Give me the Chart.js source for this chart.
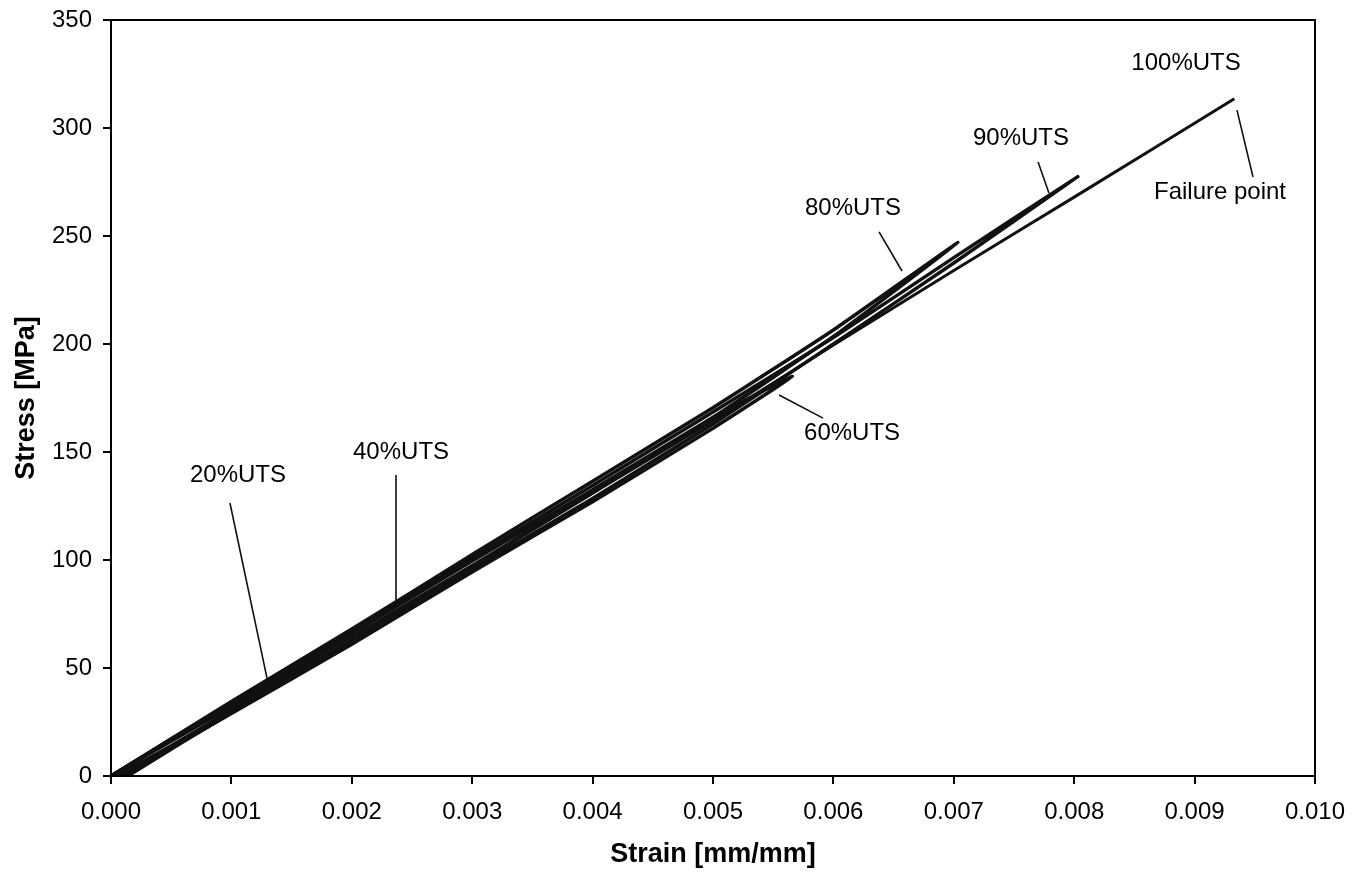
<!DOCTYPE html>
<html>
<head>
<meta charset="utf-8">
<script src="https://cdn.jsdelivr.net/npm/chart.js@4/dist/chart.umd.min.js"></script>
<style>
  html, body { margin: 0; padding: 0; background: #ffffff; }
  #wrap { width: 1367px; height: 872px; }
</style>
</head>
<body>
<div id="wrap"><canvas id="c" width="1367" height="872"></canvas></div>
<script>
// ---- Data ----
const xTickMin = 0, xTickMax = 0.010, xTickStep = 0.001;
const yTickMin = 0, yTickMax = 350, yTickStep = 50;

// cycle to 20% UTS (load then unload)
const strain20 = [0, 0.0005, 0.001, 0.0015, 0.0019, 0.0015, 0.001, 0.0005, 0.00004];
const stress20 = [0, 17, 34, 50.5, 62.5, 47.5, 30.5, 14, 0];
// cycle to 40% UTS
const strain40 = [0, 0.001, 0.002, 0.003, 0.0038, 0.003, 0.002, 0.001, 0.00006];
const stress40 = [0, 33.5, 66.5, 100, 125.5, 96.5, 62, 29.5, 0];
// cycle to 60% UTS
const strain60 = [0, 0.001, 0.002, 0.003, 0.004, 0.005, 0.00566, 0.005, 0.004, 0.003, 0.002, 0.001, 0.0001];
const stress60 = [0, 33, 66, 99.5, 132.5, 166, 185, 161, 127, 94.5, 61, 29, 0];
// cycle to 80% UTS
const strain80 = [0, 0.001, 0.002, 0.003, 0.004, 0.005, 0.006, 0.007035, 0.006, 0.005, 0.004, 0.003, 0.002, 0.001, 0.00012];
const stress80 = [0, 34.5, 68, 102.5, 136.5, 170.5, 206.5, 247, 203.5, 166, 131, 97, 63, 30.5, 0];
// cycle to 90% UTS
const strain90 = [0, 0.001, 0.002, 0.003, 0.004, 0.005, 0.006, 0.007, 0.00803, 0.007, 0.006, 0.005, 0.004, 0.003, 0.002, 0.001, 0.00014];
const stress90 = [0, 34, 67, 101, 134.5, 168.5, 203, 240, 277.5, 237.5, 200, 163, 128.5, 95.5, 61.5, 29.5, 0];
// final loading to failure (100% UTS)
const strain100 = [0, 0.001, 0.002, 0.003, 0.004, 0.005, 0.006, 0.007, 0.008, 0.00933];
const stress100 = [0, 32, 64.5, 97.5, 131, 164.5, 199.5, 234, 268, 313.5];

// annotation texts and their anchor points (data units)
const noteText = ["100%UTS", "Failure point", "90%UTS", "80%UTS", "60%UTS", "40%UTS", "20%UTS"];
const noteX    = [0.008929, 0.009211, 0.007558, 0.006163, 0.006155, 0.002409, 0.001055];
const noteY    = [330, 270.4, 295.4, 263, 158.8, 150, 139.4];
// leader lines (data units): start and end
const leadX1 = [0.009352, 0.00770, 0.006379, 0.005548, 0.002367, 0.000988];
const leadY1 = [308.3, 284.3, 251.9, 176.4, 139.4, 126.4];
const leadX2 = [0.009485, 0.00779, 0.006570, 0.005914, 0.002367, 0.001304];
const leadY2 = [277.3, 269.9, 233.8, 165.7, 78.2, 43.1];

// ---- Build datasets ----
function pts(xs, ys) { return xs.map((x, i) => ({ x: x, y: ys[i] })); }
const curveStyle = { showLine: true, borderColor: '#111111', borderWidth: 3.5, pointRadius: 0, fill: false, tension: 0.15 };
const datasets = [
  Object.assign({ label: '20%', data: pts(strain20, stress20) }, curveStyle),
  Object.assign({ label: '40%', data: pts(strain40, stress40) }, curveStyle),
  Object.assign({ label: '60%', data: pts(strain60, stress60) }, curveStyle),
  Object.assign({ label: '80%', data: pts(strain80, stress80) }, curveStyle),
  Object.assign({ label: '90%', data: pts(strain90, stress90) }, curveStyle),
  Object.assign({ label: '100%', data: pts(strain100, stress100) }, curveStyle, { borderWidth: 3 })
];
leadX1.forEach((x, i) => {
  datasets.push({
    label: 'leader' + i,
    data: [{ x: leadX1[i], y: leadY1[i] }, { x: leadX2[i], y: leadY2[i] }],
    showLine: true, borderColor: '#111111', borderWidth: 1.6, pointRadius: 0, fill: false
  });
});

const FONT = "'Liberation Sans', Arial, sans-serif";

const framePlugin = {
  id: 'frame',
  afterDatasetsDraw(chart) {
    const { ctx, chartArea: a, scales } = chart;
    ctx.save();
    ctx.strokeStyle = '#000';
    ctx.lineWidth = 2;
    ctx.strokeRect(a.left, a.top, a.right - a.left, a.bottom - a.top);
    ctx.fillStyle = '#000';
    ctx.font = '24px ' + FONT;
    ctx.textAlign = 'center';
    ctx.textBaseline = 'middle';
    noteText.forEach((t, i) => {
      ctx.fillText(t, scales.x.getPixelForValue(noteX[i]), scales.y.getPixelForValue(noteY[i]));
    });
    ctx.restore();
  }
};

new Chart(document.getElementById('c'), {
  type: 'scatter',
  data: { datasets: datasets },
  plugins: [framePlugin],
  options: {
    responsive: false,
    animation: false,
    devicePixelRatio: 1,
    layout: { padding: { top: 20, right: 52, left: 0, bottom: 0 } },
    plugins: { legend: { display: false }, tooltip: { enabled: false } },
    scales: {
      x: {
        type: 'linear', min: xTickMin, max: xTickMax,
        afterFit(s) { s.height = 96; },
        ticks: {
          stepSize: xTickStep, color: '#000', padding: 14,
          font: { family: FONT, size: 24 },
          callback: (v) => Number(v).toFixed(3)
        },
        grid: { drawOnChartArea: false, drawTicks: true, tickLength: 8, color: '#000', lineWidth: 2 },
        border: { display: true, color: '#000', width: 2 },
        title: { display: true, text: 'Strain [mm/mm]', color: '#000', padding: { top: 0, bottom: 1 },
                 font: { family: FONT, size: 27, weight: 'bold' } }
      },
      y: {
        type: 'linear', min: yTickMin, max: yTickMax,
        afterFit(s) { s.width = 111; },
        ticks: {
          stepSize: yTickStep, color: '#000', padding: 11,
          font: { family: FONT, size: 24, lineHeight: 0.6 }
        },
        grid: { drawOnChartArea: false, drawTicks: true, tickLength: 8, color: '#000', lineWidth: 2 },
        border: { display: true, color: '#000', width: 2 },
        title: { display: true, text: 'Stress [MPa]', color: '#000', padding: { top: 10, bottom: 0 },
                 font: { family: FONT, size: 27, weight: 'bold' } }
      }
    }
  }
});
</script>
</body>
</html>
